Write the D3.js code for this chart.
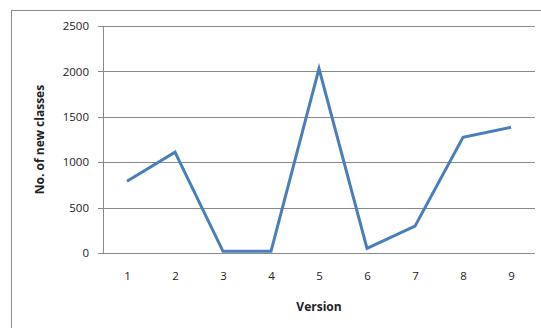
<!DOCTYPE html>
<html>
<head>
<meta charset="utf-8">
<script src="https://cdn.jsdelivr.net/npm/d3@7"></script>
<style>
  html, body { margin: 0; padding: 0; background: #fff; }
  svg { display: block; }
  text { font-family: "Open Sans", "Liberation Sans", sans-serif; fill: #222; }
</style>
</head>
<body>
<svg id="chart" width="541" height="328"></svg>
<script>
// New classes introduced per version
const versions = [1, 2, 3, 4, 5, 6, 7, 8, 9];
const newClasses = [790, 1110, 18, 18, 2030, 50, 295, 1275, 1385];
const yTicks = [0, 500, 1000, 1500, 2000, 2500];

const svg = d3.select("#chart");
const W = 541, H = 328;

// chart frame (only top and left edges fall inside the view)
svg.append("rect")
  .attr("x", 11.5).attr("y", 10.5)
  .attr("width", W + 20).attr("height", H + 20)
  .attr("fill", "#fff").attr("stroke", "#8c8c8c").attr("stroke-width", 1);

const plot = { left: 103, right: 535, top: 26, bottom: 253 };

const x = d3.scalePoint()
  .domain(versions)
  .range([plot.left, plot.right])
  .padding(0.5);

const y = d3.scaleLinear()
  .domain([0, 2500])
  .range([plot.bottom, plot.top]);

// horizontal gridlines + y axis
const yAxis = d3.axisLeft(y)
  .tickValues(yTicks)
  .tickSize(-(plot.right - plot.left))
  .tickPadding(10)
  .tickFormat(d3.format("d"));

const gy = svg.append("g")
  .attr("transform", `translate(${plot.left},0)`)
  .call(yAxis);
gy.select(".domain").remove();
gy.selectAll(".tick line")
  .attr("x1", -5)
  .attr("stroke", "#8a8a8a")
  .attr("shape-rendering", "crispEdges");
gy.selectAll(".tick text")
  .attr("font-size", 11.5)
  .attr("x", -14);

// vertical axis line
svg.append("line")
  .attr("x1", plot.left + 0.5).attr("x2", plot.left + 0.5)
  .attr("y1", plot.top).attr("y2", plot.bottom)
  .attr("stroke", "#8a8a8a");

// x axis labels
const xAxis = d3.axisBottom(x).tickSize(0).tickPadding(19);
const gx = svg.append("g")
  .attr("transform", `translate(0,${plot.bottom})`)
  .call(xAxis);
gx.select(".domain").remove();
gx.selectAll(".tick text").attr("font-size", 11.5);

// data line
const line = d3.line()
  .x((d, i) => x(versions[i]))
  .y(d => y(d));

svg.append("path")
  .datum(newClasses)
  .attr("d", line)
  .attr("fill", "none")
  .attr("stroke", "#4a7ebb")
  .attr("stroke-width", 3)
  .attr("stroke-linejoin", "miter");

// axis titles
svg.append("text")
  .attr("x", (plot.left + plot.right) / 2)
  .attr("y", 311)
  .attr("text-anchor", "middle")
  .attr("font-size", 12)
  .attr("font-weight", "bold")
  .text("Version");

svg.append("text")
  .attr("transform", `translate(44,${(plot.top + plot.bottom) / 2}) rotate(-90)`)
  .attr("text-anchor", "middle")
  .attr("font-size", 12)
  .attr("font-weight", "bold")
  .text("No. of new classes");
</script>
</body>
</html>
